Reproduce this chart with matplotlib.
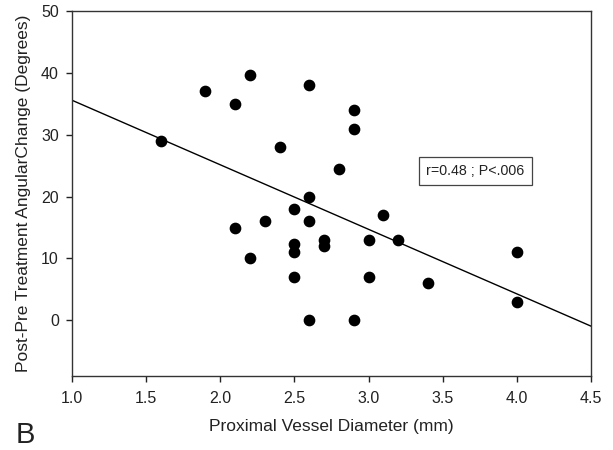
import numpy as np
import matplotlib
matplotlib.use("Agg")
import matplotlib.pyplot as plt

plt.rcParams['font.family'] = ['Liberation Sans', 'DejaVu Sans']

# data
diameter = [1.6, 1.9, 2.1, 2.2, 2.1, 2.2, 2.3, 2.4, 2.5, 2.5, 2.5, 2.5,
            2.6, 2.6, 2.6, 2.6, 2.7, 2.7, 2.8, 2.9, 2.9, 2.9, 3.0, 3.0,
            3.1, 3.2, 3.4, 4.0, 4.0]
angle_change = [29, 37, 35, 39.7, 15, 10, 16, 28, 18, 12.3, 11, 7,
                38, 20, 16, 0, 13, 12, 24.4, 34, 31, 0, 13, 7,
                17, 13, 6, 11, 3]

# regression line (intercept, slope)
fit_intercept = 46.0
fit_slope = -10.43

fig = plt.figure(figsize=(6.13, 4.5), dpi=100)
ax = fig.add_axes([0.1175, 0.1644, 0.8465, 0.8112])

ax.scatter(diameter, angle_change, s=55, color='black', zorder=3)
xs = np.array([1.0, 4.5])
ax.plot(xs, fit_intercept + fit_slope * xs, color='black', linewidth=1.0)

ax.set_xlim(1.0, 4.5)
ax.set_ylim(-9, 50)
ax.set_xticks(np.arange(1.0, 4.51, 0.5))
ax.set_xticklabels([f"{v:.1f}" for v in np.arange(1.0, 4.51, 0.5)])
ax.set_yticks([0, 10, 20, 30, 40, 50])
ax.tick_params(direction='out', length=4.5, width=1, labelsize=11.5, colors='#222222')
ax.tick_params(axis='x', pad=6)
ax.tick_params(axis='y', pad=5)
for sp in ax.spines.values():
    sp.set_linewidth(1.0)
    sp.set_color('#333333')

ax.set_xlabel('Proximal Vessel Diameter (mm)', fontsize=12.5, color='#222222', labelpad=10)
ax.set_ylabel('Post-Pre Treatment AngularChange (Degrees)', fontsize=12.5, color='#222222', labelpad=7)

ax.text(3.72, 24.1, 'r=0.48 ; P<.006', fontsize=10.3, ha='center', va='center', color='#222222',
        bbox=dict(boxstyle='square,pad=0.5', facecolor='white', edgecolor='#444444', linewidth=0.9))

# panel letter
fig.text(0.025, 0.015, 'B', fontsize=21, color='#222222', va='baseline')

fig.savefig('out.png', dpi=100)
